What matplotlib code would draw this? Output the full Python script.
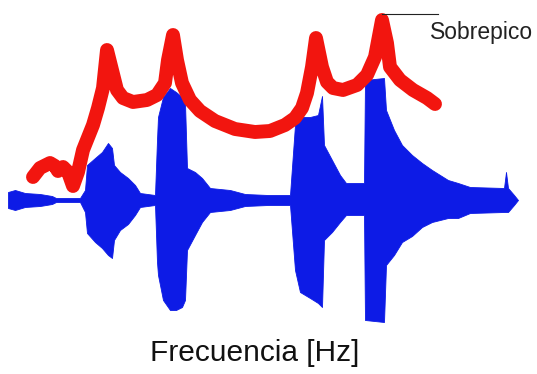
import matplotlib.pyplot as plt
import numpy as np

# blue waveform envelope (x position, upper edge, lower edge)
wave_x = [8, 15, 25, 40, 52, 56, 80, 85, 87, 95, 102, 108, 112, 114, 120, 128, 135, 140,
          155, 157, 158, 163, 170, 176, 182, 185, 187, 195, 202, 210, 230, 245, 268, 290,
          295, 300, 310, 318, 322, 324, 332, 340, 346, 364, 365, 384, 386, 394, 402, 412,
          422, 432, 448, 458, 470, 504, 506, 508, 514, 518]
wave_top = [192, 190, 193, 194, 196, 198, 198, 190, 165, 158, 152, 143, 148, 165, 172, 178, 185, 193,
            195, 140, 117, 97, 88, 92, 97, 103, 168, 172, 178, 188, 190, 194, 195, 195,
            125, 117, 117, 115, 96, 145, 160, 175, 183, 183, 80, 78, 110, 130, 145, 155,
            163, 170, 180, 183, 187, 188, 172, 188, 195, 200]
wave_bot = [208, 210, 207, 206, 204, 202, 202, 212, 233, 242, 248, 255, 258, 240, 230, 224, 215, 207,
            205, 262, 275, 300, 310, 310, 307, 300, 250, 235, 222, 212, 210, 206, 205, 205,
            270, 292, 298, 303, 307, 240, 232, 222, 215, 215, 320, 322, 265, 255, 242, 236,
            227, 222, 218, 218, 213, 212, 212, 212, 205, 200]

# red response curve (centre line)
resp_x = [33, 40, 50, 55, 58, 63, 68, 73, 78, 83, 93, 98, 103, 107, 112, 117, 123,
          133, 147, 157, 165, 168, 173, 177, 182, 190, 200, 215, 235, 255, 270,
          285, 295, 302, 307, 312, 316, 322, 327, 333, 343, 357, 367, 375,
          382, 387, 390, 400, 413, 427, 435]
resp_y = [177, 168, 163, 166, 171, 167, 172, 186, 172, 150, 125, 108, 88, 50, 70, 90, 98,
          102, 100, 95, 83, 60, 35, 60, 83, 100, 111, 121, 129, 132, 131,
          125, 118, 108, 93, 67, 38, 67, 82, 88, 90, 85, 75, 57,
          20, 43, 67, 80, 90, 98, 104]

fig = plt.figure(figsize=(5.37, 3.74), dpi=100)
ax = fig.add_axes([0, 0, 1, 1])

ax.fill_between(wave_x, wave_top, wave_bot, color='#0d1be6', lw=0.6, edgecolor='#0d1be6')
ax.plot(resp_x, resp_y, color='#f2150f', lw=10, solid_capstyle='round', solid_joinstyle='round')

# annotation of the highest peak
ax.plot([382, 438], [14, 14], color='#222222', lw=0.8)
ax.text(430, 32, 'Sobrepico', fontsize=16.5, family='Liberation Sans', color='#222222',
        ha='left', va='center')

ax.text(255, 353, 'Frecuencia [Hz]', fontsize=21.5, family='Liberation Sans', color='#111111',
        ha='center', va='center')

ax.set_xlim(0, 537)
ax.set_ylim(374, 0)
ax.axis('off')

plt.savefig('out.png', dpi=100)
